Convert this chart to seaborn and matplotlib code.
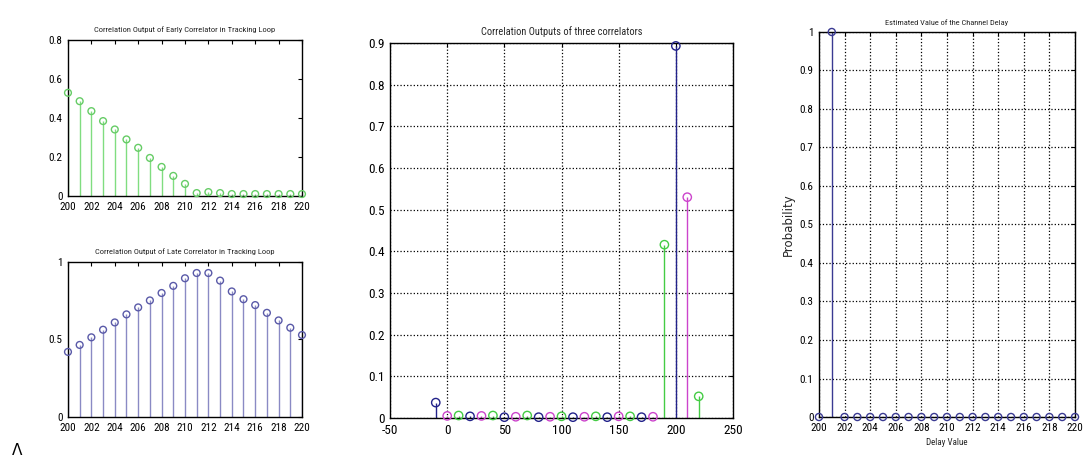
import numpy as np
import pandas as pd
import matplotlib
matplotlib.use("Agg")
import matplotlib.pyplot as plt
from matplotlib import font_manager as fm
import seaborn as sns

# ---------------- data ----------------
delay = list(range(200, 221))
early_vals = [0.529, 0.486, 0.435, 0.384, 0.341, 0.290, 0.247, 0.195, 0.149, 0.103,
              0.062, 0.015, 0.020, 0.015, 0.010, 0.010, 0.010, 0.010, 0.010, 0.010, 0.010]
late_vals = [0.420, 0.465, 0.514, 0.563, 0.610, 0.662, 0.707, 0.752, 0.800, 0.846,
             0.895, 0.929, 0.929, 0.880, 0.810, 0.760, 0.722, 0.672, 0.623, 0.576, 0.529]

blue_x = [-10, 20, 50, 80, 110, 140, 170, 200]
blue_y = [0.037, 0.004, 0.002, 0.002, 0.002, 0.002, 0.002, 0.893]
mag_x = [0, 30, 60, 90, 120, 150, 180, 210]
mag_y = [0.005, 0.005, 0.003, 0.003, 0.003, 0.004, 0.003, 0.530]
green_x = [10, 40, 70, 100, 130, 160, 190, 220]
green_y = [0.006, 0.006, 0.006, 0.004, 0.004, 0.004, 0.416, 0.052]

prob_vals = [0.0, 1.0] + [0.0] * 19

x_ticks_delay = list(range(200, 221, 2))
mid_xticks = [-50, 0, 50, 100, 150, 200, 250]
mid_yticks = [0, 0.1, 0.2, 0.3, 0.4, 0.5, 0.6, 0.7, 0.8, 0.9]
right_yticks = [0, 0.1, 0.2, 0.3, 0.4, 0.5, 0.6, 0.7, 0.8, 0.9, 1]

titles = ["Correlation Output of Early Correlator in Tracking Loop",
          "Correlation Output of Late Correlator in Tracking Loop",
          "Correlation Outputs of three correlators",
          "Estimated Value of the Channel Delay"]

# ---------------- style ----------------
sns.set_theme(style="white")
names = {f.name for f in fm.fontManager.ttflist}
narrow = "DejaVu Sans"
for cand in ["Liberation Sans Narrow", "Roboto Condensed", "Open Sans Condensed", "DejaVu Sans"]:
    if cand in names:
        narrow = cand
        break
plt.rcParams["font.family"] = [narrow, "DejaVu Sans"]
plt.rcParams["font.stretch"] = "condensed"
plt.rcParams["axes.unicode_minus"] = False
plt.rcParams["xtick.direction"] = "in"
plt.rcParams["ytick.direction"] = "in"

fig = plt.figure(figsize=(10.84, 4.59), dpi=100)
fig.patch.set_facecolor("white")


def stem(ax, x, y, color, stemcolor=None, s=22, lw=1.0):
    df = pd.DataFrame({"x": x, "y": y})
    ax.vlines(df["x"], 0, df["y"], color=stemcolor or color, linewidth=lw, zorder=2)
    sns.scatterplot(data=df, x="x", y="y", ax=ax, marker="o", s=s,
                    color=color, facecolor="none", edgecolor=color,
                    linewidth=1.0, zorder=3, legend=False, clip_on=False)


def frame(ax, fs=8):
    for sp in ax.spines.values():
        sp.set_visible(True)
        sp.set_color("black")
        sp.set_linewidth(1.0)
    ax.tick_params(axis="both", which="both", direction="in", top=True, right=True,
                   length=3, width=0.8, colors="black", labelsize=fs)
    ax.tick_params(axis="x", pad=4)
    ax.tick_params(axis="y", pad=4)
    ax.set_xlabel("")
    ax.set_ylabel("")


# Top-left
ax1 = fig.add_axes([0.0627, 0.573, 0.2159, 0.340])
stem(ax1, delay, early_vals, "#66cc66", "#80dd80", s=24)
ax1.set_xlim(200, 220)
ax1.set_ylim(0, 0.8)
ax1.set_xticks(x_ticks_delay)
ax1.set_yticks([0, 0.2, 0.4, 0.6, 0.8])
ax1.set_yticklabels(["0", "0.2", "0.4", "0.6", "0.8"])
frame(ax1, fs=8)
ax1.set_title(titles[0], fontsize=6.1, pad=6)

# Bottom-left
ax2 = fig.add_axes([0.0627, 0.0915, 0.2159, 0.3377])
stem(ax2, delay, late_vals, "#5a5aa8", "#8a8ac4", s=24)
ax2.set_xlim(200, 220)
ax2.set_ylim(0, 1)
ax2.set_xticks(x_ticks_delay)
ax2.set_yticks([0, 0.5, 1])
ax2.set_yticklabels(["0", "0.5", "1"])
frame(ax2, fs=8)
ax2.set_title(titles[1], fontsize=6.1, pad=6)

# Middle
ax3 = fig.add_axes([0.3598, 0.0893, 0.3164, 0.817])
stem(ax3, blue_x, blue_y, "#22228a", s=36)
stem(ax3, mag_x, mag_y, "#cc44cc", s=36)
stem(ax3, green_x, green_y, "#44cc44", s=36)
ax3.set_xlim(-50, 250)
ax3.set_ylim(0, 0.9)
ax3.set_xticks(mid_xticks)
ax3.set_yticks(mid_yticks)
ax3.set_yticklabels(["0", "0.1", "0.2", "0.3", "0.4", "0.5", "0.6", "0.7", "0.8", "0.9"])
ax3.grid(True, linestyle=":", color="black", linewidth=0.9)
frame(ax3, fs=9.5)
ax3.set_title(titles[2], fontsize=7.5, pad=6)

# Right
ax4 = fig.add_axes([0.7555, 0.0915, 0.2362, 0.8388])
stem(ax4, delay, prob_vals, "#3a3a92", s=26)
ax4.set_xlim(200, 220)
ax4.set_ylim(0, 1)
ax4.set_xticks(x_ticks_delay)
ax4.set_yticks(right_yticks)
ax4.set_yticklabels(["0", "0.1", "0.2", "0.3", "0.4", "0.5", "0.6", "0.7", "0.8", "0.9", "1"])
ax4.grid(True, linestyle=":", color="black", linewidth=0.9)
frame(ax4, fs=8)
ax4.set_title(titles[3], fontsize=6, pad=5)
ax4.set_xlabel("Delay Value", fontsize=6.5, labelpad=4)
ax4.set_ylabel("Probability", fontsize=8.5, family=["DejaVu Sans"], stretch="normal", labelpad=3)

for ax in (ax1, ax2, ax3, ax4):
    ax.set_axisbelow(True)

fig.text(0.011, 0.003, "Λ", fontsize=11, color="black", va="bottom",
         family=["DejaVu Sans"], stretch="normal")

fig.savefig("out.png", dpi=100, facecolor="white")
